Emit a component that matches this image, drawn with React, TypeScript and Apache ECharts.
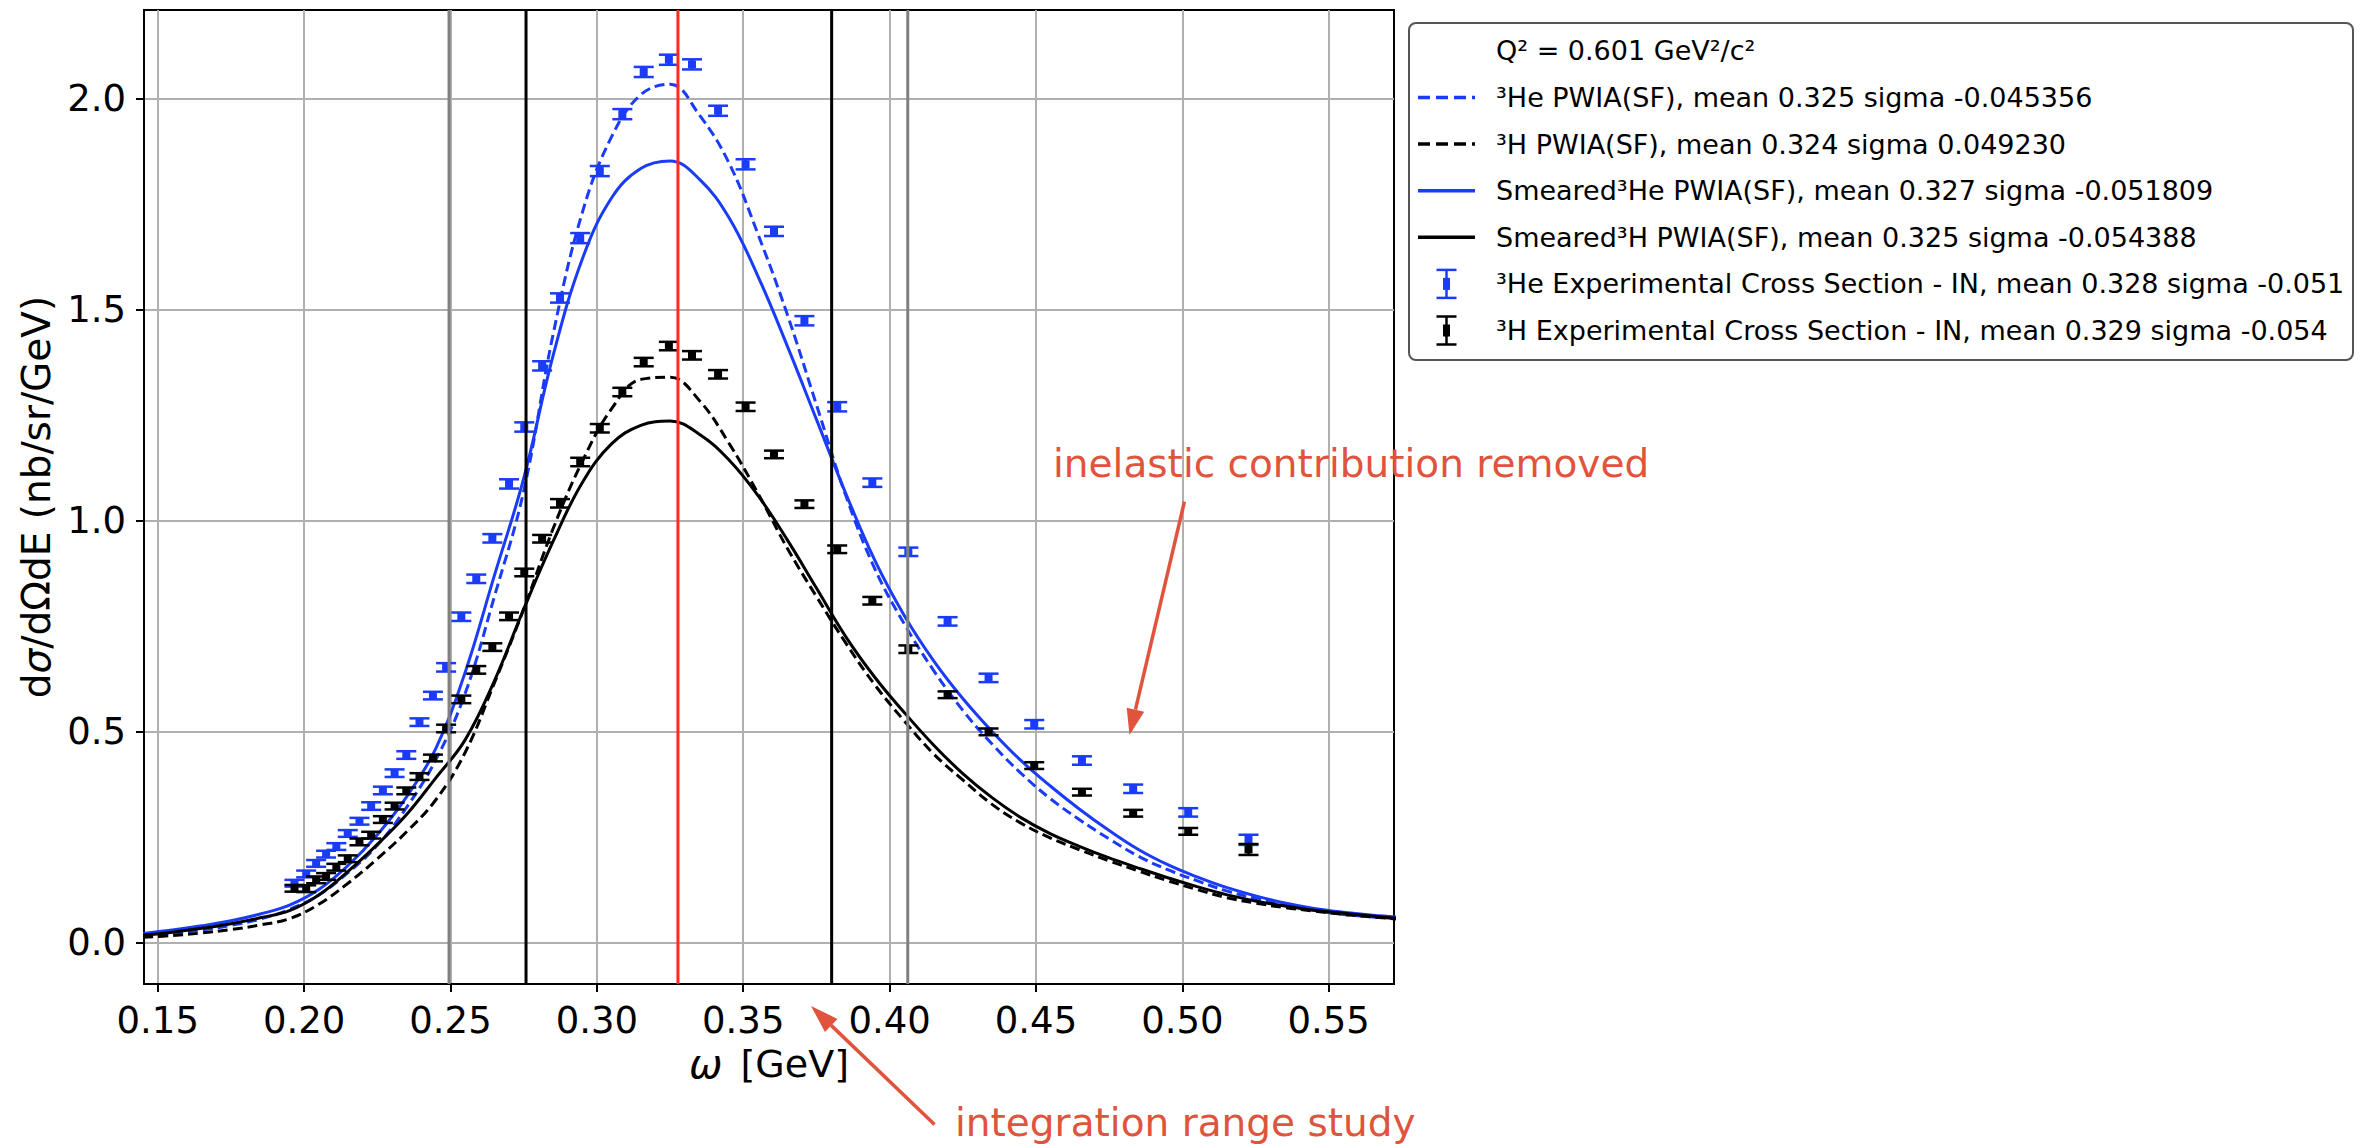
import React, { useEffect, useRef } from "react";
import * as echarts from "echarts";

// ---------- axis ranges & ticks ----------
const X_MIN = 0.1453;
const X_MAX = 0.5723;
const Y_MIN = -0.099;
const Y_MAX = 2.211;
const X_TICKS = [0.15, 0.2, 0.25, 0.3, 0.35, 0.4, 0.45, 0.5, 0.55];
const Y_TICKS = [0, 0.5, 1.0, 1.5, 2.0];

// ---------- model curves (omega in GeV) ----------
const OMEGA_GRID = [
  0.145, 0.155, 0.165, 0.175, 0.185, 0.195, 0.205, 0.215, 0.225, 0.235, 0.245,
  0.255, 0.265, 0.275, 0.285, 0.295, 0.305, 0.315, 0.325, 0.335, 0.345, 0.355,
  0.365, 0.375, 0.385, 0.395, 0.405, 0.415, 0.425, 0.435, 0.445, 0.455, 0.465,
  0.475, 0.485, 0.495, 0.505, 0.515, 0.525, 0.535, 0.545, 0.555, 0.565, 0.575,
];
const HE_PWIA = [
  0.015, 0.021, 0.029, 0.04, 0.055, 0.078, 0.112, 0.165, 0.23, 0.32, 0.433,
  0.59, 0.82, 1.07, 1.44, 1.73, 1.91, 2.01, 2.035, 1.962, 1.85, 1.68,
  1.49, 1.275, 1.06, 0.885, 0.755, 0.645, 0.55, 0.47, 0.4, 0.34, 0.29,
  0.245, 0.204, 0.172, 0.146, 0.122, 0.104, 0.088, 0.076, 0.066, 0.06, 0.055,
];
const H_PWIA = [
  0.012, 0.016, 0.022, 0.03, 0.041, 0.056, 0.09, 0.14, 0.198, 0.262, 0.338,
  0.45, 0.615, 0.79, 0.98, 1.14, 1.265, 1.335, 1.34, 1.285, 1.185, 1.065,
  0.935, 0.82, 0.71, 0.61, 0.525, 0.447, 0.385, 0.327, 0.282, 0.247, 0.219,
  0.193, 0.169, 0.146, 0.125, 0.106, 0.093, 0.082, 0.074, 0.066, 0.06, 0.054,
];
const HE_SMEARED = [
  0.021, 0.029, 0.039, 0.051, 0.067, 0.088, 0.125, 0.182, 0.255, 0.345, 0.46,
  0.64, 0.87, 1.1, 1.39, 1.62, 1.765, 1.835, 1.853, 1.81, 1.72, 1.58,
  1.415, 1.24, 1.065, 0.905, 0.775, 0.668, 0.578, 0.5, 0.43, 0.37, 0.315,
  0.265, 0.22, 0.184, 0.155, 0.13, 0.11, 0.093, 0.08, 0.071, 0.064, 0.059,
];
const H_SMEARED = [
  0.017, 0.024, 0.033, 0.044, 0.058, 0.075, 0.112, 0.168, 0.232, 0.303, 0.39,
  0.48, 0.62, 0.79, 0.95, 1.09, 1.182, 1.226, 1.236, 1.205, 1.145, 1.06,
  0.955, 0.84, 0.725, 0.628, 0.545, 0.468, 0.4, 0.343, 0.295, 0.257, 0.227,
  0.2, 0.176, 0.153, 0.132, 0.113, 0.098, 0.086, 0.076, 0.069, 0.062, 0.056,
];

// ---------- experimental points ----------
const EXP_OMEGA = [
  0.1967, 0.2007, 0.2041, 0.2075, 0.211, 0.2149, 0.2189, 0.2229, 0.2269, 0.2309,
  0.2349, 0.2394, 0.244, 0.2485, 0.2537, 0.2588, 0.2643, 0.27, 0.2752, 0.2813,
  0.2874, 0.2943, 0.301, 0.3087, 0.316, 0.3246, 0.3325, 0.3414, 0.3508, 0.3605,
  0.3709, 0.3821, 0.3941, 0.4064, 0.4198, 0.4338, 0.4494, 0.4657, 0.4832, 0.502,
  0.5226,
];
const HE_EXP = [
  0.14, 0.162, 0.187, 0.209, 0.227, 0.258, 0.287, 0.323, 0.36, 0.401,
  0.444, 0.522, 0.585, 0.652, 0.772, 0.862, 0.958, 1.087, 1.222, 1.367,
  1.528, 1.67, 1.829, 1.964, 2.064, 2.093, 2.082, 1.972, 1.845, 1.686,
  1.474, 1.27, 1.09, 0.926, 0.761, 0.627, 0.517, 0.431, 0.364, 0.308,
  0.243,
];
const HE_EXP_ERR = [
  0.008, 0.008, 0.008, 0.008, 0.008, 0.008, 0.008, 0.009, 0.009, 0.009,
  0.009, 0.009, 0.009, 0.01, 0.01, 0.01, 0.01, 0.011, 0.011, 0.011,
  0.011, 0.012, 0.012, 0.012, 0.012, 0.012, 0.012, 0.012, 0.012, 0.011,
  0.011, 0.011, 0.01, 0.01, 0.01, 0.01, 0.01, 0.01, 0.01, 0.01,
  0.012,
];
const H_EXP = [
  0.128, 0.127, 0.148, 0.156, 0.178, 0.198, 0.238, 0.254, 0.291, 0.323,
  0.359, 0.393, 0.437, 0.507, 0.576, 0.646, 0.7, 0.773, 0.877, 0.957,
  1.041, 1.139, 1.219, 1.305, 1.376, 1.414, 1.392, 1.347, 1.27, 1.157,
  1.039, 0.932, 0.81, 0.695, 0.587, 0.499, 0.419, 0.356, 0.306, 0.263,
  0.22,
];
const H_EXP_ERR = [
  0.008, 0.008, 0.008, 0.008, 0.008, 0.008, 0.008, 0.008, 0.008, 0.008,
  0.008, 0.008, 0.008, 0.009, 0.009, 0.009, 0.009, 0.009, 0.009, 0.009,
  0.01, 0.01, 0.01, 0.01, 0.01, 0.01, 0.01, 0.01, 0.01, 0.009,
  0.009, 0.009, 0.009, 0.009, 0.008, 0.008, 0.008, 0.008, 0.008, 0.008,
  0.013,
];

// ---------- integration range lines (omega) ----------
const RANGE_LINES = [0.2495, 0.2758, 0.3277, 0.3802, 0.4062];

// ---------- legend labels ----------
const LEGEND_LABELS = [
  "Q² = 0.601 GeV²/c²",
  "³He PWIA(SF), mean 0.325 sigma -0.045356",
  "³H PWIA(SF), mean 0.324 sigma 0.049230",
  "Smeared³He PWIA(SF), mean 0.327 sigma -0.051809",
  "Smeared³H PWIA(SF), mean 0.325 sigma -0.054388",
  "³He Experimental Cross Section - IN, mean 0.328 sigma -0.051",
  "³H Experimental Cross Section - IN, mean 0.329 sigma -0.054",
];

const BLUE = "#1a3bf8";
const BLACK = "#000000";
const RED_LINE = "#ff2a1a";
const GRAY_LINE = "#808080";
const ANNOT = "#e0533c";
const FONT = "DejaVu Sans";

function arrow(tail: number[], tip: number[], headLen: number, headHalf: number) {
  const dx = tip[0] - tail[0];
  const dy = tip[1] - tail[1];
  const len = Math.sqrt(dx * dx + dy * dy);
  const ux = dx / len;
  const uy = dy / len;
  const bx = tip[0] - ux * headLen;
  const by = tip[1] - uy * headLen;
  const px = -uy;
  const py = ux;
  return [
    {
      type: "line",
      shape: { x1: tail[0], y1: tail[1], x2: bx, y2: by },
      style: { stroke: ANNOT, lineWidth: 3.5 },
      z: 100,
    },
    {
      type: "polygon",
      shape: {
        points: [
          [tip[0], tip[1]],
          [bx + px * headHalf, by + py * headHalf],
          [bx - px * headHalf, by - py * headHalf],
        ],
      },
      style: { fill: ANNOT },
      z: 100,
    },
  ];
}

export default function App() {
  const ref = useRef<HTMLDivElement>(null);

  useEffect(() => {
    if (!ref.current) return;
    const chart = echarts.init(ref.current, null, { renderer: "svg" });

    const curve = (name: string, ys: number[], color: string, dashed: boolean, z: number) => ({
      name,
      type: "line",
      data: OMEGA_GRID.map((x, i) => [x, ys[i]]),
      showSymbol: false,
      symbol: "none",
      smooth: 0.4,
      clip: true,
      z,
      lineStyle: { color, width: 3, type: dashed ? [10, 5] : "solid" },
      silent: true,
    });

    const errSeries = (name: string, ys: number[], errs: number[], color: string, z: number) => ({
      name,
      type: "custom",
      clip: true,
      z,
      silent: true,
      data: EXP_OMEGA.map((x, i) => [x, ys[i], errs[i]]),
      encode: { x: 0, y: 1 },
      renderItem: (params: any, api: any) => {
        const x = api.value(0);
        const y = api.value(1);
        const e = api.value(2);
        const c = api.coord([x, y]);
        const top = api.coord([x, y + e]);
        const bot = api.coord([x, y - e]);
        const hw = 10;
        return {
          type: "group",
          children: [
            { type: "line", shape: { x1: c[0], y1: top[1], x2: c[0], y2: bot[1] }, style: { stroke: color, lineWidth: 3 } },
            { type: "line", shape: { x1: c[0] - hw, y1: top[1], x2: c[0] + hw, y2: top[1] }, style: { stroke: color, lineWidth: 2.5 } },
            { type: "line", shape: { x1: c[0] - hw, y1: bot[1], x2: c[0] + hw, y2: bot[1] }, style: { stroke: color, lineWidth: 2.5 } },
            { type: "rect", shape: { x: c[0] - 4, y: c[1] - 4, width: 8, height: 8 }, style: { fill: color } },
          ],
        };
      },
    });

    const vline = (x: number, color: string, z: number) => ({
      type: "line",
      data: [
        [x, Y_MIN],
        [x, Y_MAX],
      ],
      showSymbol: false,
      symbol: "none",
      z,
      silent: true,
      lineStyle: { color, width: 3 },
    });

    const rangeColors = [GRAY_LINE, BLACK, RED_LINE, BLACK, GRAY_LINE];

    // ---- legend (graphic) ----
    const LX = 1409;
    const LY = 23;
    const LW = 944;
    const LH = 337;
    const rowY = [50.9, 97.5, 144.1, 190.7, 237.3, 283.9, 330.5];
    const hx1 = 1418;
    const hx2 = 1475;
    const hcx = 1446.5;
    const legendEls: any[] = [
      {
        type: "rect",
        shape: { x: LX, y: LY, width: LW, height: LH, r: 7 },
        style: { fill: "#ffffff", stroke: "#555555", lineWidth: 2 },
        z: 200,
      },
    ];
    LEGEND_LABELS.forEach((t, i) => {
      legendEls.push({
        type: "text",
        x: 1496,
        y: rowY[i],
        style: {
          text: t,
          fill: "#000",
          font: `27px "${FONT}"`,
          textAlign: "left",
          textVerticalAlign: "middle",
          align: "left",
          verticalAlign: "middle",
        },
        z: 201,
      });
    });
    const hLine = (y: number, color: string, dashed: boolean) => ({
      type: "line",
      shape: { x1: hx1, y1: y, x2: hx2, y2: y },
      style: { stroke: color, lineWidth: 3.5, lineDash: dashed ? [12, 6] : null },
      z: 201,
    });
    legendEls.push(hLine(rowY[1], BLUE, true));
    legendEls.push(hLine(rowY[2], BLACK, true));
    legendEls.push(hLine(rowY[3], BLUE, false));
    legendEls.push(hLine(rowY[4], BLACK, false));
    const hErr = (y: number, color: string) => [
      { type: "line", shape: { x1: hcx, y1: y - 14, x2: hcx, y2: y + 14 }, style: { stroke: color, lineWidth: 2.5 }, z: 201 },
      { type: "line", shape: { x1: hcx - 10, y1: y - 14, x2: hcx + 10, y2: y - 14 }, style: { stroke: color, lineWidth: 2.5 }, z: 201 },
      { type: "line", shape: { x1: hcx - 10, y1: y + 14, x2: hcx + 10, y2: y + 14 }, style: { stroke: color, lineWidth: 2.5 }, z: 201 },
      { type: "rect", shape: { x: hcx - 3.5, y: y - 6, width: 7, height: 12 }, style: { fill: color }, z: 202 },
    ];
    legendEls.push(...hErr(rowY[5], BLUE));
    legendEls.push(...hErr(rowY[6], BLACK));

    // ---- annotations ----
    const annotEls: any[] = [
      {
        type: "text",
        x: 1053,
        y: 463,
        style: {
          text: "inelastic contribution removed",
          fill: ANNOT,
          font: `39px "${FONT}"`,
          textAlign: "left",
          textVerticalAlign: "middle",
          align: "left",
          verticalAlign: "middle",
        },
        z: 100,
      },
      {
        type: "text",
        x: 955,
        y: 1122,
        style: {
          text: "integration range study",
          fill: ANNOT,
          font: `39px "${FONT}"`,
          textAlign: "left",
          textVerticalAlign: "middle",
          align: "left",
          verticalAlign: "middle",
        },
        z: 100,
      },
      ...arrow([1184.4, 501.7], [1129.5, 735], 26, 9),
      ...arrow([934.5, 1124.5], [811, 1006], 28, 9),
    ];

    const axisLabelStyle = { fontSize: 37, fontFamily: FONT, color: "#000" };

    const option: any = {
      animation: false,
      backgroundColor: "#ffffff",
      textStyle: { fontFamily: FONT },
      grid: {
        left: 144,
        top: 10,
        width: 1250,
        height: 974,
        show: true,
        borderColor: "#000",
        borderWidth: 2,
        backgroundColor: "transparent",
        containLabel: false,
        outerBoundsMode: "none",
      },
      xAxis: {
        type: "value",
        min: X_MIN,
        max: X_MAX,
        axisLine: { show: true, onZero: false, lineStyle: { color: "#000", width: 2 } },
        axisTick: { show: true, inside: false, length: 8, lineStyle: { color: "#000", width: 2 }, customValues: X_TICKS },
        axisLabel: {
          ...axisLabelStyle,
          margin: 18,
          customValues: X_TICKS,
          formatter: (v: number) => v.toFixed(2),
        },
        splitLine: { show: true, lineStyle: { color: "#b0b0b0", width: 2 } },
        name: "{i|ω} [GeV]",
        nameLocation: "middle",
        nameGap: 55,
        nameTextStyle: {
          fontSize: 38,
          fontFamily: FONT,
          color: "#000",
          rich: { i: { fontSize: 40, fontFamily: FONT, fontStyle: "italic", color: "#000", padding: [0, 6, 0, 0] } },
        },
      },
      yAxis: {
        type: "value",
        min: Y_MIN,
        max: Y_MAX,
        axisLine: { show: true, onZero: false, lineStyle: { color: "#000", width: 2 } },
        axisTick: { show: true, inside: false, length: 8, lineStyle: { color: "#000", width: 2 }, customValues: Y_TICKS },
        axisLabel: {
          ...axisLabelStyle,
          margin: 18,
          customValues: Y_TICKS,
          formatter: (v: number) => v.toFixed(1),
        },
        splitLine: { show: true, lineStyle: { color: "#b0b0b0", width: 2 } },
        name: "d{i|σ}/dΩdE (nb/sr/GeV)",
        nameLocation: "middle",
        nameRotate: 90,
        nameGap: 83,
        nameTextStyle: {
          fontSize: 39,
          fontFamily: FONT,
          color: "#000",
          rich: { i: { fontSize: 39, fontFamily: FONT, fontStyle: "italic", color: "#000" } },
        },
      },
      series: [
        curve("He PWIA", HE_PWIA, BLUE, true, 3),
        curve("H PWIA", H_PWIA, BLACK, true, 3),
        curve("Smeared He PWIA", HE_SMEARED, BLUE, false, 3),
        curve("Smeared H PWIA", H_SMEARED, BLACK, false, 3),
        errSeries("He Experimental", HE_EXP, HE_EXP_ERR, BLUE, 5),
        errSeries("H Experimental", H_EXP, H_EXP_ERR, BLACK, 5),
        ...RANGE_LINES.map((x, i) => vline(x, rangeColors[i], i === 2 ? 8 : 6)),
      ],
      graphic: { elements: [...legendEls, ...annotEls] },
    };

    chart.setOption(option);
    return () => chart.dispose();
  }, []);

  return (
    <div
      ref={ref}
      style={{ position: "fixed", left: 0, top: 0, width: 2374, height: 1148, background: "#ffffff" }}
    />
  );
}
